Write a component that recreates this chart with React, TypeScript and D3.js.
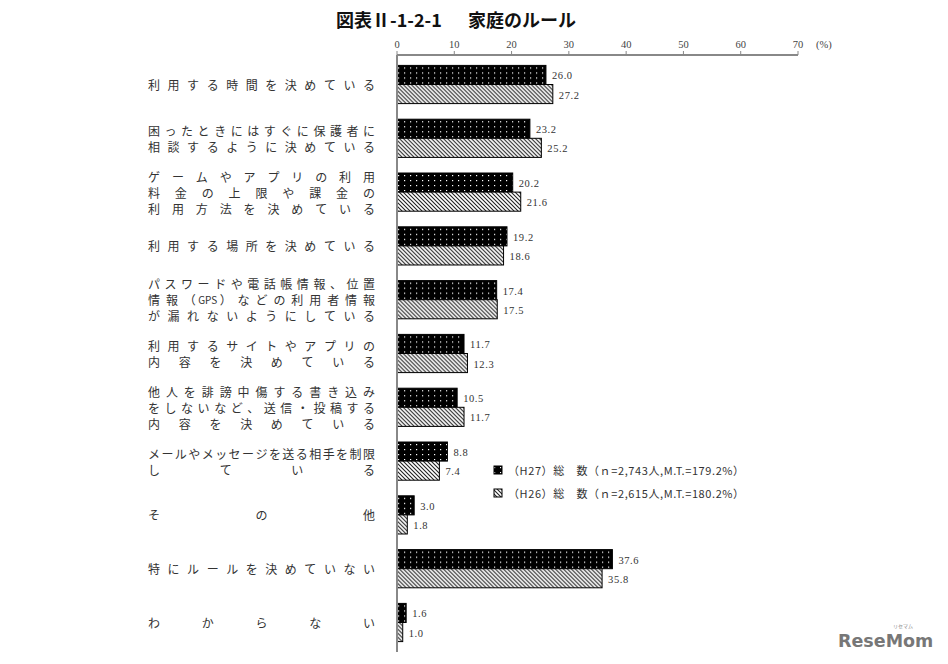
import React, { useRef, useEffect } from "react";
import * as d3 from "d3";

const categories: string[][] = [
	["利用する時間を決めている"],
	["困ったときにはすぐに保護者に", "相談するように決めている"],
	["ゲームやアプリの利用", "料金の上限や課金の", "利用方法を決めている"],
	["利用する場所を決めている"],
	["パスワードや電話帳情報、位置", "情報（GPS）などの利用者情報", "が漏れないようにしている"],
	["利用するサイトやアプリの", "内容を決めている"],
	["他人を誹謗中傷する書き込み", "をしないなど、送信・投稿する", "内容を決めている"],
	["メールやメッセージを送る相手を制限", "している"],
	["その他"],
	["特にルールを決めていない"],
	["わからない"],
];

const seriesNames = ["H27", "H26"];
const valuesH27 = [26.0, 23.2, 20.2, 19.2, 17.4, 11.7, 10.5, 8.8, 3.0, 37.6, 1.6];
const valuesH26 = [27.2, 25.2, 21.6, 18.6, 17.5, 12.3, 11.7, 7.4, 1.8, 35.8, 1.0];
const legendLabels = [
	"（H27）総　数（ｎ=2,743人,M.T.=179.2%）",
	"（H26）総　数（ｎ=2,615人,M.T.=180.2%）",
];
const xTicks = [0, 10, 20, 30, 40, 50, 60, 70];

const W = 948;
const H = 664;
const JP = "'Noto Sans CJK JP', sans-serif";
const NUM = "'Liberation Serif', 'DejaVu Serif', serif";

// split a line into tokens, keeping ascii runs together
const tokens = (s: string) => s.match(/[A-Za-z0-9]+|./g) || [];

const App: React.FC = () => {
	const svgRef = useRef<SVGSVGElement | null>(null);

	useEffect(() => {
		if (!svgRef.current) return;
		const svg = d3.select(svgRef.current);
		svg.selectAll("*").remove();

		const defs = svg.append("defs");
		const dots = defs
			.append("pattern")
			.attr("id", "dots")
			.attr("patternUnits", "userSpaceOnUse")
			.attr("width", 6)
			.attr("height", 5);
		dots.append("rect").attr("width", 6).attr("height", 5).attr("fill", "#000");
		dots.append("rect").attr("x", 2).attr("y", 2).attr("width", 1.2).attr("height", 1.2).attr("fill", "#fff");

		const hatch = defs
			.append("pattern")
			.attr("id", "hatch")
			.attr("patternUnits", "userSpaceOnUse")
			.attr("width", 4)
			.attr("height", 4);
		hatch.append("rect").attr("width", 4).attr("height", 4).attr("fill", "#fff");
		hatch
			.append("path")
			.attr("d", "M-1,-1 L5,5 M-1,3 L1,5 M3,-1 L5,1")
			.attr("stroke", "#222")
			.attr("stroke-width", 1.1);

		const keys = categories.map((_, i) => String(i));
		const x = d3.scaleLinear().domain([0, 70]).range([397, 798]);
		const y0 = d3
			.scaleBand<string>()
			.domain(keys)
			.range([57.6, 649.4])
			.paddingInner(0.29)
			.paddingOuter(0.145);
		const y1 = d3.scaleBand<string>().domain(seriesNames).range([0, y0.bandwidth()]);

		// title
		const title = svg
			.append("text")
			.attr("y", 27)
			.attr("font-family", JP)
			.attr("font-weight", "bold")
			.attr("font-size", 18)
			.attr("fill", "#111");
		title.append("tspan").attr("x", 336).text("図表Ⅱ-1-2-1");
		title.append("tspan").attr("x", 468).text("家庭のルール");

		// top axis
		const axisY = 55;
		const axis = svg.append("g").attr("transform", `translate(0,${axisY})`);
		axis
			.append("line")
			.attr("x1", x(0))
			.attr("x2", x(70))
			.attr("stroke", "#888")
			.attr("stroke-width", 2);
		axis
			.selectAll("line.tick")
			.data(xTicks)
			.enter()
			.append("line")
			.attr("class", "tick")
			.attr("x1", (d) => x(d))
			.attr("x2", (d) => x(d))
			.attr("y1", -4)
			.attr("y2", 0)
			.attr("stroke", "#888");
		axis
			.selectAll("text")
			.data(xTicks)
			.enter()
			.append("text")
			.attr("x", (d) => x(d))
			.attr("y", -7)
			.attr("text-anchor", "middle")
			.attr("font-family", NUM)
			.attr("font-size", 10.5)
			.attr("fill", "#444")
			.text((d) => d);
		axis
			.append("text")
			.attr("x", 816)
			.attr("y", -7)
			.attr("font-family", NUM)
			.attr("font-size", 10.5)
			.attr("fill", "#444")
			.text("(%)");

		// bars
		const rows = keys.map((k, i) => ({ k, vals: [valuesH27[i], valuesH26[i]] }));
		const groups = svg
			.selectAll("g.grp")
			.data(rows)
			.enter()
			.append("g")
			.attr("class", "grp")
			.attr("transform", (d) => `translate(0,${y0(d.k)})`);

		groups
			.selectAll("rect")
			.data((d) => d.vals.map((v, j) => ({ v, s: seriesNames[j] })))
			.enter()
			.append("rect")
			.attr("x", x(0))
			.attr("y", (d) => y1(d.s)!)
			.attr("width", (d) => x(d.v) - x(0))
			.attr("height", y1.bandwidth())
			.attr("fill", (d) => (d.s === "H27" ? "url(#dots)" : "url(#hatch)"))
			.attr("stroke", "#000")
			.attr("stroke-width", 1);

		groups
			.selectAll("text")
			.data((d) => d.vals.map((v, j) => ({ v, s: seriesNames[j] })))
			.enter()
			.append("text")
			.attr("x", (d) => x(d.v) + 6)
			.attr("y", (d) => y1(d.s)! + y1.bandwidth() / 2 + 1)
			.attr("dominant-baseline", "central")
			.attr("font-family", NUM)
			.attr("font-size", 10.5)
			.attr("letter-spacing", 0.6)
			.attr("fill", "#333")
			.text((d) => d.v.toFixed(1));

		// vertical axis
		svg
			.append("line")
			.attr("x1", x(0))
			.attr("x2", x(0))
			.attr("y1", axisY)
			.attr("y2", 652)
			.attr("stroke", "#888")
			.attr("stroke-width", 2);

		// category labels, distributed justification
		const left = 148;
		const right = 375;
		const cw = 12;
		categories.forEach((lines, i) => {
			const c = y0(keys[i])! + y0.bandwidth() / 2;
			lines.forEach((line, li) => {
				const ly = c + (li - (lines.length - 1) / 2) * 16;
				const t = tokens(line);
				const n = t.length;
				t.forEach((ch, ti) => {
					const cx = n === 1 ? left + cw / 2 : left + cw / 2 + (ti * (right - left - cw)) / (n - 1);
					svg
						.append("text")
						.attr("x", cx)
						.attr("y", ly)
						.attr("text-anchor", "middle")
						.attr("dominant-baseline", "central")
						.attr("font-family", JP)
						.attr("font-size", ch.length > 1 ? 10 : 12)
						.attr("fill", "#333")
						.text(ch);
				});
			});
		});

		// legend
		legendLabels.forEach((lab, i) => {
			const ly = 470 + i * 23;
			svg
				.append("rect")
				.attr("x", 494)
				.attr("y", ly - 4)
				.attr("width", 8)
				.attr("height", 8)
				.attr("fill", i === 0 ? "url(#dots)" : "url(#hatch)")
				.attr("stroke", "#000");
			svg
				.append("text")
				.attr("x", 508)
				.attr("y", ly)
				.attr("dominant-baseline", "central")
				.attr("font-family", JP)
				.attr("font-size", 11)
				.attr("letter-spacing", 0.6)
				.attr("fill", "#333")
				.text(lab);
		});

		// watermark
		svg
			.append("text")
			.attr("x", 838)
			.attr("y", 647)
			.attr("font-family", "'DejaVu Sans', sans-serif")
			.attr("font-weight", "bold")
			.attr("font-size", 17.5)
			.attr("fill", "#777")
			.text("ReseMom");
		svg
			.append("text")
			.attr("x", 893)
			.attr("y", 628)
			.attr("font-family", JP)
			.attr("font-size", 5)
			.attr("fill", "#888")
			.text("リセマム");
	}, []);

	return <svg ref={svgRef} width={W} height={H} style={{ display: "block", position: "absolute", left: 0, top: 0 }} />;
};

export default App;
